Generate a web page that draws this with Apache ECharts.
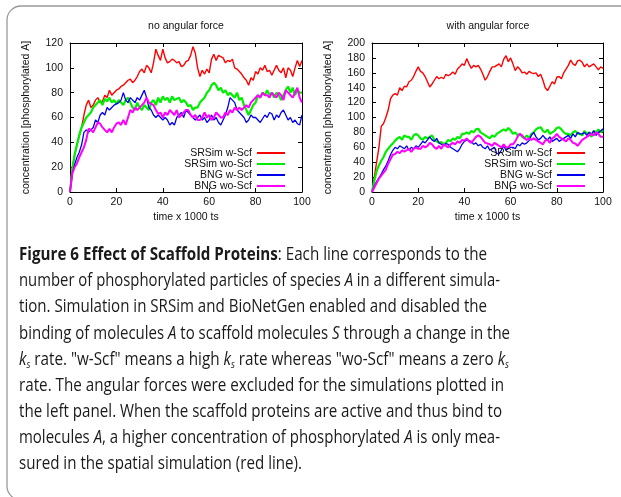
<!DOCTYPE html>
<html><head><meta charset="utf-8">
<script src="https://cdn.jsdelivr.net/npm/echarts@6/dist/echarts.min.js"></script>
<style>html,body{margin:0;padding:0;background:#fff}#c{width:621px;height:497px}</style>
</head><body><div id="c"></div><script>
const timeSteps = [0,1,2,3,4,5,6,7,8,9,10,11,12,13,14,15,16,17,18,19,20,21,22,23,24,25,26,27,28,29,30,31,32,33,34,35,36,37,38,39,40,41,42,43,44,45,46,47,48,49,50,51,52,53,54,55,56,57,58,59,60,61,62,63,64,65,66,67,68,69,70,71,72,73,74,75,76,77,78,79,80,81,82,83,84,85,86,87,88,89,90,91,92,93,94,95,96,97,98,99,100];
const seriesNames = ['SRSim w-Scf','SRSim wo-Scf','BNG w-Scf','BNG wo-Scf'];
const panelTitles = ['no angular force','with angular force'];

// no angular force
const noAngSRSimW = [0,20,30,38,45,52,62,70,74,68, 70,74,76,72,73,78,76,82,78,80, 82,83,85,86,88,90,91,88,90,93, 97,99,96,102,100,96,104,115,110,106, 115,108,104,105,107,106,104,105,101,102, 105,106,110,117,112,100,93,98,95,99, 96,107,111,106,110,109,108,104,106,105, 107,100,99,97,95,92,90,86,92,90, 97,95,100,98,102,97,98,94,98,102, 98,96,100,92,100,98,93,100,106,101, 106];
const noAngSRSimWo = [0,18,30,38,46,52,56,60,62,64, 68,70,72,74,70,75,73,76,72,74, 71,74,72,70,74,76,72,68,66,72, 68,66,70,68,66,72,74,70,76,72, 77,74,76,72,77,74,75,76,72,74, 72,69,70,66,68,68,72,74,76,80, 82,86,88,86,82,84,80,82,78,80, 78,76,80,74,76,70,66,62,66,70, 72,78,76,80,78,82,78,80,76,80, 78,74,78,82,85,80,84,78,82,80, 80];
const noAngBNGW = [0,15,22,28,32,38,48,50,48,50, 52,58,56,62,64,62,68,66,68,70, 71,72,74,80,74,72,76,74,72,76, 74,78,82,76,68,66,62,60,62,60, 58,60,58,54,56,54,60,62,64,60, 66,64,62,60,58,60,62,58,60,56, 58,62,58,60,56,54,58,62,68,76, 74,72,66,64,62,60,56,58,62,60, 60,58,56,59,62,60,64,63,58,62, 60,64,66,62,58,60,56,58,55,54, 62];
const noAngBNGWo = [0,15,20,23,28,32,36,42,51,50, 48,52,56,55,52,50,48,51,48,52, 55,56,54,58,54,60,66,64,68,66, 68,70,72,76,72,71,70,66,63,64, 60,64,62,66,64,62,66,60,62,64, 66,66,62,60,62,58,58,60,64,60, 62,58,60,64,62,60,60,64,62,66, 64,68,66,68,66,68,70,68,72,74, 76,78,76,80,78,78,76,80,78,76, 80,78,74,82,80,78,76,80,84,76, 72];

// with angular force
const angSRSimW = [0,20,40,60,88,92,100,110,125,130, 132,130,140,136,142,141,148,150,155,162, 168,162,160,155,148,141,145,150,155,152, 154,152,158,156,158,161,158,165,168,172, 170,179,172,166,170,168,170,165,158,150, 155,162,168,168,170,172,168,178,183,175, 180,172,163,168,165,160,161,158,162,160, 159,160,155,158,150,140,136,142,148,145, 154,155,152,160,165,170,177,172,170,176, 177,174,168,172,168,170,172,168,164,168, 166];
const angSRSimWo = [0,15,28,36,42,47,54,58,62,65, 69,72,74,70,76,74,74,70,76,78, 76,72,70,74,72,74,76,70,68,66, 67,64,66,70,68,72,70,74,72,78, 78,80,78,82,80,84,85,80,78,76, 74,72,76,74,78,80,82,84,82,86, 83,78,80,76,78,74,72,76,72,78, 80,84,86,87,82,80,84,78,80,82, 86,87,84,80,78,78,76,80,82,78, 78,76,82,78,80,74,82,80,84,80, 83];
const angBNGW = [0,8,14,19,24,30,35,42,50,56, 60,58,62,60,58,62,56,60,58,62, 60,64,68,66,70,74,70,68,72,66, 64,62,65,64,60,58,56,54,58,64, 68,70,69,68,64,66,62,64,60,58, 62,56,58,60,52,51,56,62,56,58, 60,60,58,64,62,66,64,66,69,76, 80,74,70,72,76,72,70,74,68,70, 72,68,70,72,74,76,72,78,74,80, 78,78,80,76,80,78,82,76,80,82, 85];
const angBNGWo = [0,6,12,18,22,26,30,38,44,50, 51,54,52,56,54,56,58,54,58,60, 58,58,62,60,62,66,64,60,58,62, 58,64,62,60,64,66,64,68,66,70, 69,72,68,66,70,74,76,74,70,66, 65,64,62,66,64,62,60,64,60,60, 64,64,68,74,78,76,72,70,72,70, 72,70,68,66,64,69,70,66,72,74, 78,74,72,70,68,72,70,66,65,62, 66,70,72,74,76,78,76,80,78,74, 74];

// caption lines: [style, text] segments
const captionLines = [
  [['b','Figure 6 Effect of Scaffold Proteins'],['n',': Each line corresponds to the']],
  [['n','number of phosphorylated particles of species '],['i','A'],['n',' in a different simula-']],
  [['n','tion. Simulation in SRSim and BioNetGen enabled and disabled the']],
  [['n','binding of molecules '],['i','A'],['n',' to scaffold molecules '],['i','S'],['n',' through a change in the']],
  [['i','k'],['s','s'],['n',' rate. "w-Scf" means a high '],['i','k'],['s','s'],['n',' rate whereas "wo-Scf" means a zero '],['i','k'],['s','s']],
  [['n','rate. The angular forces were excluded for the simulations plotted in']],
  [['n','the left panel. When the scaffold proteins are active and thus bind to']],
  [['n','molecules '],['i','A'],['n',', a higher concentration of phosphorylated '],['i','A'],['n',' is only mea-']],
  [['n','sured in the spatial simulation (red line).']]
];
const captionWidths = [468, 481, 468, 491, 490, 485, 483, 481, 283];

const FONT = 'Liberation Sans, Arial, sans-serif';
const CAPFONT = 'Open Sans, Noto Sans, sans-serif';
const capSize = 18.5;
const capStyles = {
  n: {fontFamily: CAPFONT, fontSize: capSize, fontWeight: 'normal', fontStyle: 'normal', fill: '#1a1a1a', lineHeight: 22},
  b: {fontFamily: CAPFONT, fontSize: capSize, fontWeight: 'bold', fontStyle: 'normal', fill: '#1a1a1a', lineHeight: 22},
  i: {fontFamily: CAPFONT, fontSize: capSize, fontWeight: 'normal', fontStyle: 'italic', fill: '#1a1a1a', lineHeight: 22},
  s: {fontFamily: CAPFONT, fontSize: 11, fontWeight: 'normal', fontStyle: 'italic', fill: '#1a1a1a', lineHeight: 11, verticalAlign: 'bottom'}
};
const mctx = document.createElement('canvas').getContext('2d');
function segFont(k){const s=capStyles[k];return s.fontStyle+' '+s.fontWeight+' '+s.fontSize+'px '+CAPFONT;}
const captionGraphics = captionLines.map((line, li) => {
  let w = 0;
  line.forEach(([k,t]) => { mctx.font = segFont(k); w += mctx.measureText(t).width; });
  const text = line.map(([k,t]) => '{' + k + '|' + t + '}').join('');
  return {
    type: 'text', x: 19, y: 255 + li * 26.1, scaleX: captionWidths[li] / w, silent: true,
    style: {text: text, rich: capStyles, align: 'left', verticalAlign: 'middle', fill: '#1a1a1a', font: capSize + 'px ' + CAPFONT}
  };
});

const colors = ['#ff0000', '#00ee00', '#0000ee', '#ff00ff'];
const widths = [1.4, 2.2, 1.3, 2.0];

function makeSeries(arrs, axisIdx) {
  return arrs.map((arr, i) => ({
    name: seriesNames[i], type: 'line', xAxisIndex: axisIdx, yAxisIndex: axisIdx,
    data: timeSteps.map((t, j) => [t, arr[j]]),
    symbol: 'none', showSymbol: false, smooth: false,
    lineStyle: {color: colors[i], width: widths[i]}, itemStyle: {color: colors[i]},
    emphasis: {disabled: true}
  }));
}

function axisBase() {
  return {
    axisLine: {show: true, onZero: false, lineStyle: {color: '#000', width: 1}},
    axisTick: {show: true, inside: true, length: 4, lineStyle: {color: '#000'}},
    splitLine: {show: false}
  };
}
function xAx(grid, pos, labels) {
  return Object.assign(axisBase(), {
    type: 'value', gridIndex: grid, position: pos, min: 0, max: 100, interval: 20,
    axisLabel: {show: labels, color: '#111', fontSize: 10.5, fontFamily: FONT, margin: 5},
    name: labels ? 'time x 1000 ts' : '', nameLocation: 'middle', nameGap: 20,
    nameTextStyle: {color: '#111', fontSize: 10.5, fontFamily: FONT}
  });
}
function yAx(grid, pos, labels, max) {
  return Object.assign(axisBase(), {
    type: 'value', gridIndex: grid, position: pos, min: 0, max: max, interval: 20,
    axisLabel: {show: labels, color: '#111', fontSize: 10.5, fontFamily: FONT, margin: 7},
    name: labels ? 'concentration [phosphorylated A]' : '', nameLocation: 'middle', nameGap: 38,
    nameTextStyle: {color: '#111', fontSize: 10.5, fontFamily: FONT}
  });
}

const chart = echarts.init(document.getElementById('c'), null, {renderer: 'canvas'});
const legendCommon = {
  orient: 'vertical', align: 'right', itemWidth: 28, itemHeight: 2, itemGap: 0,
  textStyle: {color: '#111', fontSize: 10.5, fontFamily: FONT, lineHeight: 10.5},
  data: seriesNames, selectedMode: false, icon: 'rect'
};
chart.setOption({
  animation: false,
  backgroundColor: '#fff',
  grid: [
    {left: 70, top: 43, width: 232, height: 149},
    {left: 372, top: 43, width: 231, height: 149}
  ],
  xAxis: [xAx(0, 'bottom', true), xAx(0, 'top', false), xAx(1, 'bottom', true), xAx(1, 'top', false)],
  yAxis: [yAx(0, 'left', true, 120), yAx(0, 'right', false, 120), yAx(1, 'left', true, 200), yAx(1, 'right', false, 200)],
  legend: [
    Object.assign({}, legendCommon, {right: 331, top: 142.5}),
    Object.assign({}, legendCommon, {right: 31, top: 142.5})
  ],
  series: makeSeries([noAngSRSimW, noAngSRSimWo, noAngBNGW, noAngBNGWo], 0)
    .concat(makeSeries([angSRSimW, angSRSimWo, angBNGW, angBNGWo], 2)),
  graphic: [
    {type: 'rect', silent: true, z: -10, shape: {x: 7, y: 6, width: 700, height: 494, r: 14}, style: {fill: 'none', stroke: '#9a9a9a', lineWidth: 1.3}},
    {type: 'text', x: 186, y: 26, silent: true, style: {text: panelTitles[0], align: 'center', verticalAlign: 'middle', fill: '#111', font: '10.5px ' + FONT}},
    {type: 'text', x: 488, y: 26, silent: true, style: {text: panelTitles[1], align: 'center', verticalAlign: 'middle', fill: '#111', font: '10.5px ' + FONT}}
  ].concat(captionGraphics)
});
</script></body></html>
